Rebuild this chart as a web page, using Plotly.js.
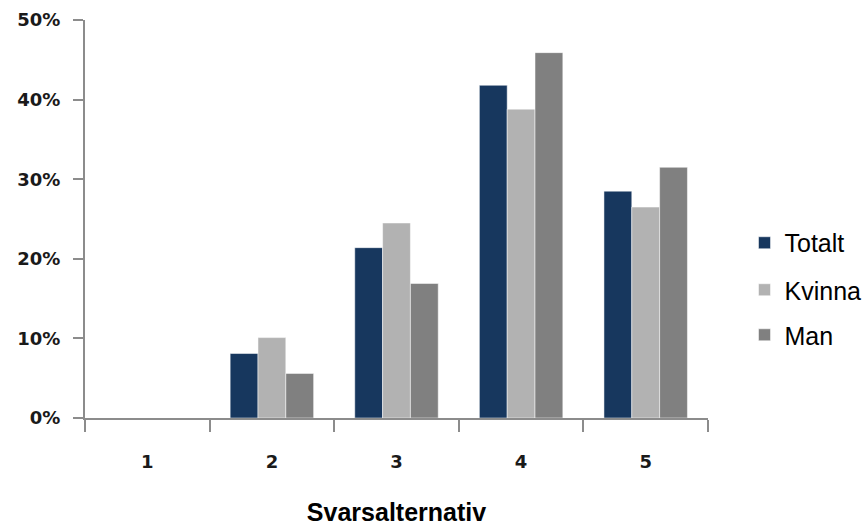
<!DOCTYPE html>
<html>
<head>
<meta charset="utf-8">
<script src="https://cdn.plot.ly/plotly-3.0.1.min.js"></script>
<style>html,body{margin:0;padding:0;background:#fff;}#chart{width:865px;height:526px;}</style>
</head>
<body>
<div id="chart"></div>
<script>
const categories = ['1', '2', '3', '4', '5'];
const seriesNames = ['Totalt', 'Kvinna', 'Man'];
const totalt = [0, 0.081, 0.214, 0.418, 0.285];
const kvinna = [0, 0.101, 0.245, 0.388, 0.265];
const man = [0, 0.056, 0.169, 0.459, 0.315];
const yTickVals = [0, 0.1, 0.2, 0.3, 0.4, 0.5];
const yTickText = ['0%', '10%', '20%', '30%', '40%', '50%'];
const xTitle = 'Svarsalternativ';

const colors = ['#17375E', '#B2B2B2', '#808080'];
const values = [totalt, kvinna, man];
const legendIds = ['legend', 'legend2', 'legend3'];

const traces = values.map((v, i) => ({
  type: 'bar',
  name: seriesNames[i],
  x: categories,
  y: v,
  marker: {color: colors[i], line: {color: 'rgba(255,255,255,0.5)', width: 1}},
  legend: legendIds[i],
  hoverinfo: 'none'
}));

const legendFont = {family: 'Liberation Sans, Arial, sans-serif', size: 25, color: '#000'};
const mkLegend = (y) => ({
  x: 1.0586, xanchor: 'left', y: y, yanchor: 'middle',
  font: legendFont, bgcolor: 'rgba(0,0,0,0)', itemwidth: 30
});

const layout = {
  width: 865, height: 526,
  margin: {l: 85, r: 157, t: 20, b: 108, autoexpand: false},
  paper_bgcolor: '#fff', plot_bgcolor: '#fff',
  barmode: 'group', bargap: 0.33, bargroupgap: 0,
  showlegend: true,
  legend: mkLegend(0.4397),
  legend2: mkLegend(0.3216),
  legend3: mkLegend(0.2085),
  xaxis: {
    type: 'category',
    automargin: false,
    showline: true, linecolor: '#8c8c8c', linewidth: 2,
    ticks: 'outside', tickson: 'boundaries', ticklen: 12, tickcolor: '#8c8c8c', tickwidth: 2,
    showgrid: false, zeroline: false,
    ticklabelstandoff: 26,
    tickfont: {family: 'DejaVu Sans, sans-serif', size: 18, weight: 'bold', color: '#1a1a1a'},
    title: {text: '<b>' + xTitle + '</b>', font: {family: 'Liberation Sans, Arial, sans-serif', size: 25, color: '#000'}, standoff: 34}
  },
  yaxis: {
    range: [0, 0.5],
    automargin: false,
    tickvals: yTickVals, ticktext: yTickText,
    showline: true, linecolor: '#8c8c8c', linewidth: 2,
    ticks: 'outside', ticklen: 10, tickcolor: '#8c8c8c', tickwidth: 2,
    showgrid: false, zeroline: false,
    ticklabelstandoff: 9,
    tickfont: {family: 'DejaVu Sans, sans-serif', size: 18, weight: 'bold', color: '#1a1a1a'}
  }
};

Plotly.newPlot('chart', traces, layout, {staticPlot: true});
</script>
</body>
</html>
